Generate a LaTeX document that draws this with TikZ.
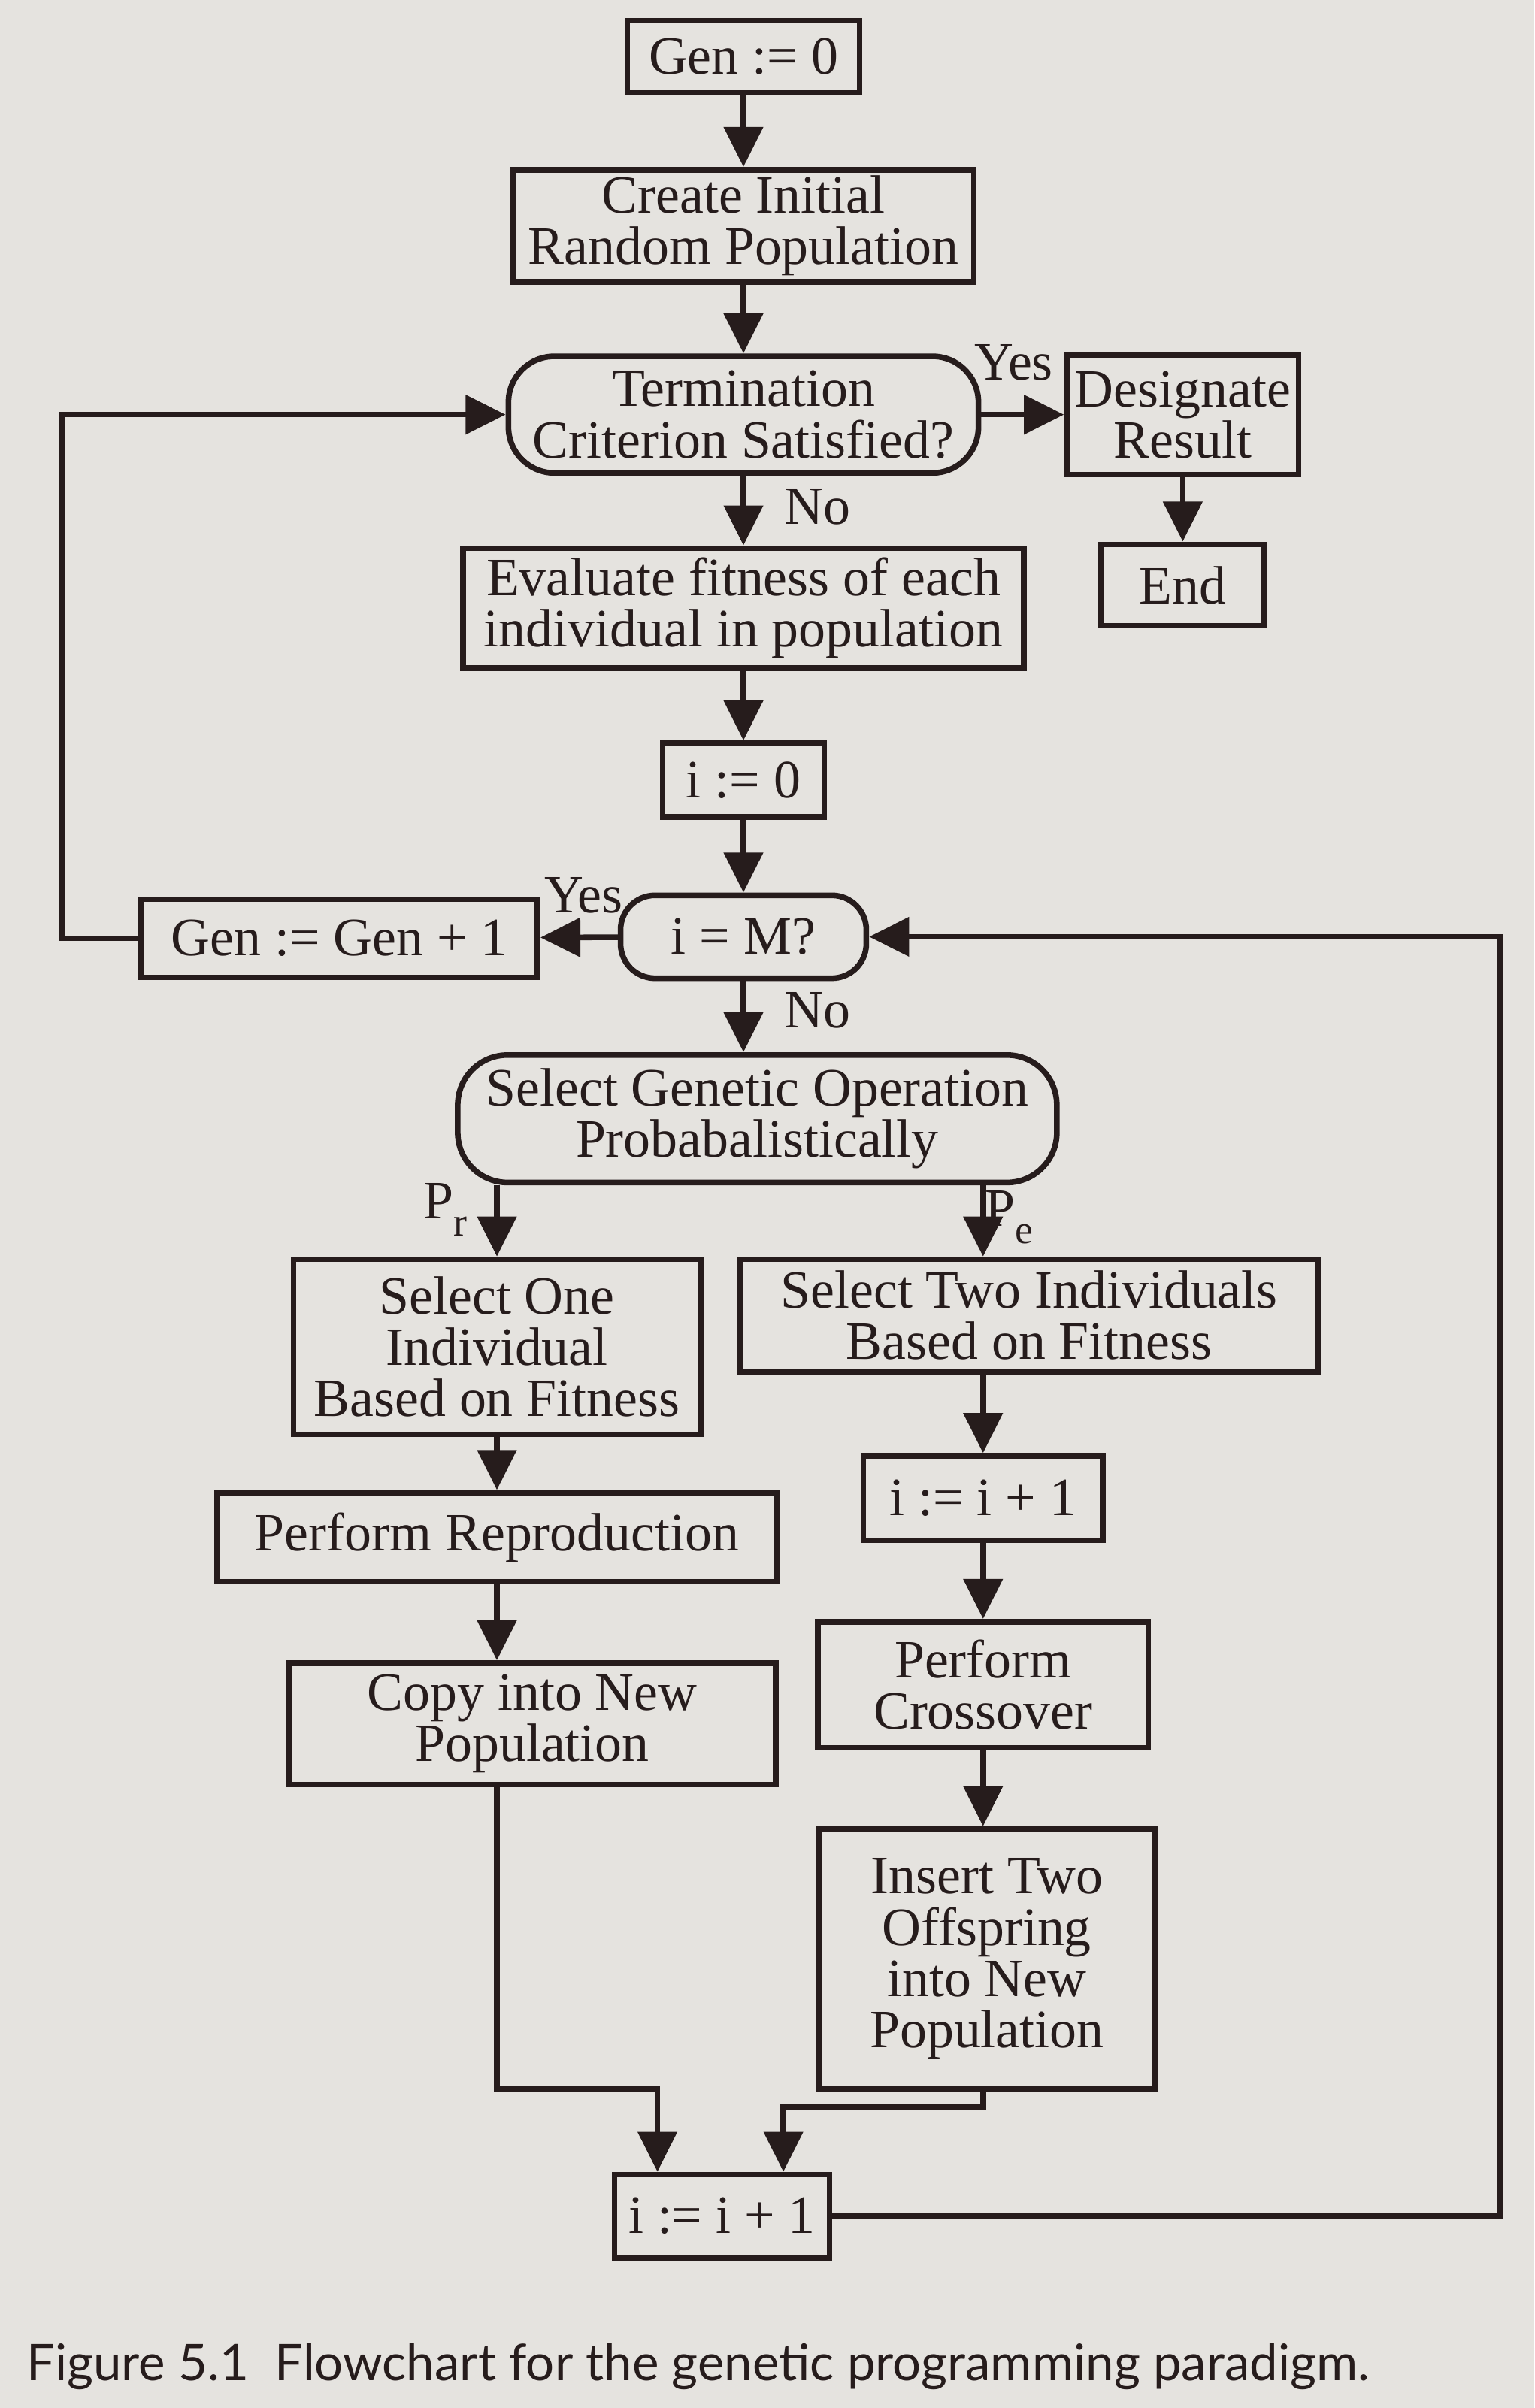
\documentclass[tikz,border=0pt]{standalone}
\usepackage{fontspec}
\setmainfont{Liberation Serif}
\newfontfamily\capfont{Lato}
\usetikzlibrary{arrows.meta,calc}
\definecolor{paper}{RGB}{229,227,223}
\definecolor{ink}{RGB}{38,28,28}

\begin{document}
\begin{tikzpicture}[y=-1cm,
  box/.style={draw=ink, line width=2.1pt, text=ink, align=center, inner sep=0pt,
    font=\fontsize{20}{19}\selectfont},
  termbox/.style={box, rounded corners=0.6cm},
  arr/.style={draw=ink, line width=2.1pt, -{Triangle[length=5.2mm,width=5mm]}},
  lbl/.style={text=ink, inner sep=0pt, font=\fontsize{20}{19}\selectfont}]
\fill[paper] (0,0) rectangle (19.98,31.36);
\useasboundingbox (0,0) rectangle (19.98,31.36);

% main column
\node[box, minimum width=3.02cm, minimum height=0.94cm] (gen0) at (9.68,0.74) {Gen := 0};
\node[box, minimum width=6.00cm, minimum height=1.46cm] (create) at (9.68,2.94) {Create Initial\\Random Population};
\node[termbox, minimum width=6.12cm, minimum height=1.52cm] (term) at (9.68,5.40) {Termination\\Criterion Satisfied?};
\node[box, minimum width=3.02cm, minimum height=1.56cm] (desig) at (15.40,5.40) {Designate\\Result};
\node[box, minimum width=2.12cm, minimum height=1.06cm] (endn) at (15.40,7.62) {End};
\node[box, minimum width=7.30cm, minimum height=1.56cm] (eval) at (9.68,7.92) {Evaluate fitness of each\\individual in population};
\node[box, minimum width=2.10cm, minimum height=0.96cm] (izero) at (9.68,10.16) {i := 0};
\node[termbox, minimum width=3.20cm, minimum height=1.08cm, rounded corners=0.45cm] (iM) at (9.68,12.20) {i = M?};
\node[box, minimum width=5.16cm, minimum height=1.02cm] (geninc) at (4.42,12.22) {Gen := Gen + 1};
\node[termbox, minimum width=7.80cm, minimum height=1.66cm, rounded corners=0.65cm] (selop) at (9.86,14.57) {Select Genetic Operation\\Probabalistically};

% reproduction branch
\node[box, minimum width=5.30cm, minimum height=2.28cm] (selone) at (6.47,17.54) {Select One\\Individual\\Based on Fitness};
\node[box, minimum width=7.28cm, minimum height=1.16cm] (repro) at (6.47,20.02) {Perform Reproduction};
\node[box, minimum width=6.34cm, minimum height=1.58cm] (copy) at (6.93,22.45) {Copy into New\\Population};

% crossover branch
\node[box, minimum width=7.52cm, minimum height=1.46cm] (seltwo) at (13.40,17.13) {Select Two Individuals\\Based on Fitness};
\node[box, minimum width=3.12cm, minimum height=1.10cm] (iinc1) at (12.80,19.51) {i := i + 1};
\node[box, minimum width=4.30cm, minimum height=1.64cm] (cross) at (12.80,21.94) {Perform\\Crossover};
\node[box, minimum width=4.38cm, minimum height=3.38cm] (insert) at (12.85,25.51) {Insert Two\\Offspring\\into New\\Population};

\node[box, minimum width=2.80cm, minimum height=1.08cm] (iinc2) at (9.40,28.86) {i := i + 1};
\coordinate (jl) at (8.56,27.20);
\coordinate (jr) at (10.20,27.44);

% labels
\node[lbl] (yes1) at (13.20,4.72) {Yes};
\node[lbl] (no1) at (10.64,6.60) {No};
\node[lbl] (yes2) at (7.60,11.66) {Yes};
\node[lbl] (no2) at (10.64,13.16) {No};
\node[lbl] (pr) at (5.80,15.75) {P\raisebox{-0.7ex}{\fontsize{15}{15}\selectfont r}};
\node[lbl] (pe) at (13.14,15.85) {P\raisebox{-0.7ex}{\fontsize{15}{15}\selectfont e}};

% arrows
\draw[arr] (gen0) -- (create);
\draw[arr] (create) -- (term);
\draw[arr] (term) -- (desig);
\draw[arr] (desig) -- (endn);
\draw[arr] (term) -- (eval);
\draw[arr] (eval) -- (izero);
\draw[arr] (izero) -- (iM);
\draw[arr] (iM) -- (geninc);
\draw[arr] (geninc.west) -- ++(-1,0) |- (term.west);
\draw[arr] (iM.south) -- (iM.south |- selop.north);
\draw[arr] (selone.north |- selop.south) -- (selone.north);
\draw[arr] (iinc1.north |- selop.south) -- (iinc1.north |- seltwo.north);
\draw[arr] (iinc1.north |- seltwo.south) -- (iinc1);
\draw[arr] (iinc1) -- (cross);
\draw[arr] (cross.south) -- (cross.south |- insert.north);
\draw[arr] (selone) -- (repro);
\draw[arr] (selone.south |- repro.south) -- (selone.south |- copy.north);
\draw[arr] (selone.south |- copy.south) |- (jl) -- (jl |- iinc2.north);
\draw[arr] (cross.south |- insert.south) |- (jr) -- (jr |- iinc2.north);
\draw[arr] (iinc2.east) -- ++(8.7,0) |- (iM.east);

\node[anchor=base west, text=ink, inner sep=0pt, font=\capfont\fontsize{18.7}{18.7}\selectfont] (caption) at (0.34,31.0)
  {Figure 5.1\ \ Flowchart for the genetic programming paradigm.};
\end{tikzpicture}
\end{document}
